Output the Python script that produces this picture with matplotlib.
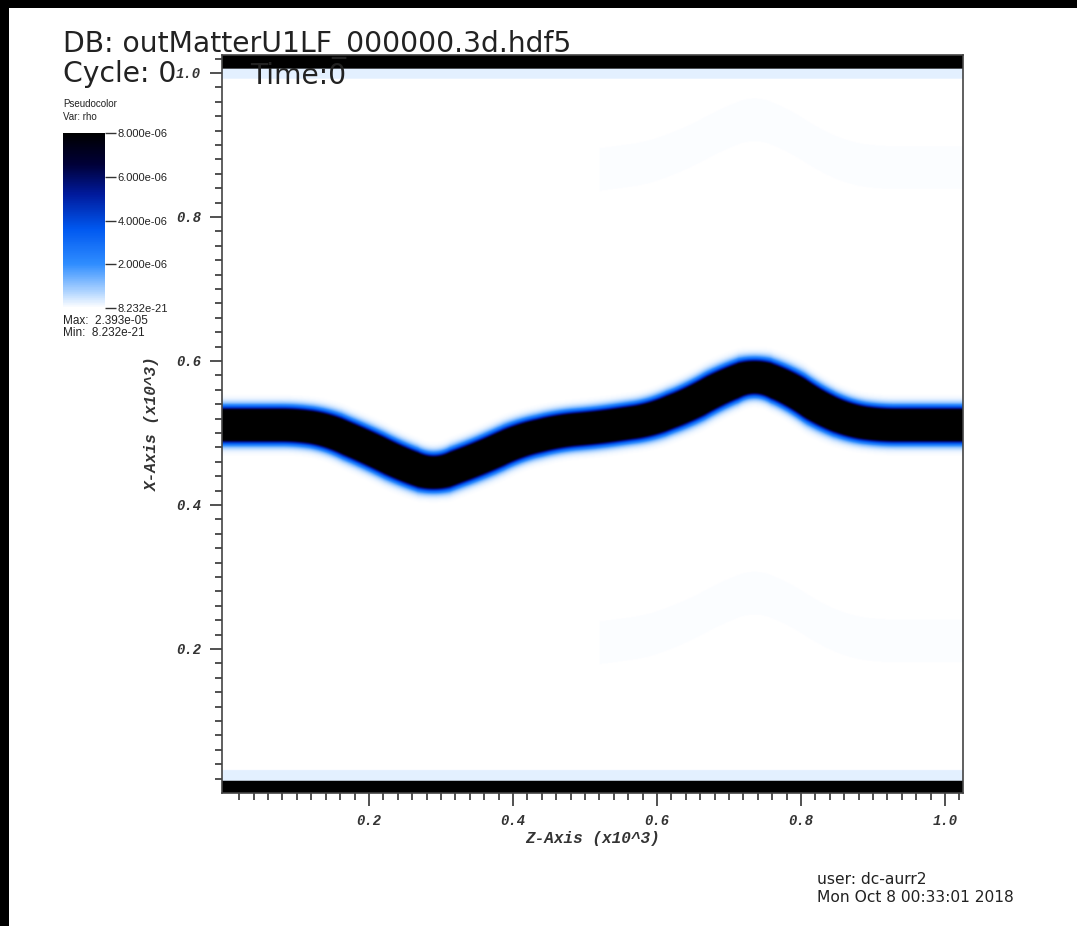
import numpy as np
import matplotlib
matplotlib.use('Agg')
import matplotlib.pyplot as plt
from matplotlib.colors import LinearSegmentedColormap, Normalize
from matplotlib.patches import Rectangle
from matplotlib import font_manager
import matplotlib.cm as cm

# centre line of the dense band (units of 10^3)
band_z = [0.00, 0.10, 0.14, 0.20, 0.243, 0.29, 0.354, 0.41, 0.465, 0.52,
          0.59, 0.646, 0.688, 0.736, 0.785, 0.826, 0.868, 0.91, 1.025]
band_x = [0.511, 0.511, 0.505, 0.479, 0.458, 0.441, 0.465, 0.490, 0.503, 0.508,
          0.518, 0.540, 0.563, 0.582, 0.562, 0.535, 0.517, 0.511, 0.511]
rho_max = 2.393e-05
rho_min = 8.232e-21
# faint ghost copies of the band (only right of z = 0.52)
ghost_shift = [0.358, -0.300]
ghost_level = 6e-08
# boundary layers (x ranges and density)
layer_lo = [0.0, 0.0167, 0.0167, 0.032]
layer_hi = [1.007, 1.025, 0.993, 1.007]
layer_light = 2.8e-07

cbar_ticks = [8.232e-21, 2e-06, 4e-06, 6e-06, 8e-06]
cbar_labels = ['8.232e-21', '2.000e-06', '4.000e-06', '6.000e-06', '8.000e-06']
major = [0.2, 0.4, 0.6, 0.8, 1.0]
major_labels = ['0.2', '0.4', '0.6', '0.8', '1.0']

W, H = 1077, 926
fig = plt.figure(figsize=(W / 100, H / 100), dpi=100, facecolor='black')
fig.patches.append(Rectangle((9 / W, 0), 1, 1 - 8 / H, transform=fig.transFigure,
                             facecolor='white', edgecolor='none', zorder=-10))

cmap = LinearSegmentedColormap.from_list('visit_blue', [
    (0.0, '#ffffff'), (0.1, '#a8d0ff'), (0.25, '#2f8dff'), (0.45, '#0058f0'),
    (0.65, '#001a9c'), (0.82, '#000038'), (1.0, '#000000')])
norm = Normalize(vmin=rho_min, vmax=8e-06)

# build the field
z = np.linspace(-0.004, 1.025, 1030)
x = np.linspace(0.0, 1.025, 1026)
c = np.interp(z, band_z, band_x)
k = 45
c = np.convolve(np.pad(c, k // 2, mode='edge'), np.ones(k) / k, mode='valid')
slope = np.gradient(c, z)
Z, X = np.meshgrid(z, x)
C = np.tile(c, (len(x), 1))
S = np.tile(slope, (len(x), 1))
d = np.abs(X - C) / np.sqrt(1 + S ** 2)
rho = rho_max * np.exp(-(d / 0.0198) ** 2.5)
for s in ghost_shift:
    g = ghost_level * np.exp(-((X - C - s) / 0.033) ** 4) * (Z > 0.52)
    rho = np.maximum(rho, g)
rho[(X >= layer_lo[0]) & (X < layer_lo[1])] = rho_max
rho[(X >= layer_lo[2]) & (X < layer_lo[3])] = layer_light
rho[(X >= layer_hi[0])] = rho_max
rho[(X >= layer_hi[2]) & (X < layer_hi[0])] = layer_light

ax = fig.add_axes([222 / W, 1 - 793 / H, (963 - 222) / W, (793 - 55) / H])
ax.imshow(rho, origin='lower', extent=[-0.004, 1.025, 0, 1.025], aspect='auto',
          cmap=cmap, norm=norm, interpolation='bilinear')
ax.set_xlim(-0.004, 1.025)
ax.set_ylim(0, 1.025)

tick_font = dict(family='Liberation Mono', weight='bold', style='italic', size=10)
ax.set_xticks(major)
ax.set_xticklabels(major_labels, **tick_font)
ax.set_yticks(major)
ax.set_yticklabels(major_labels, **tick_font)
minor = np.round(np.arange(0.02, 1.021, 0.02), 3)
ax.set_xticks(minor, minor=True)
ax.set_yticks(minor, minor=True)
ax.tick_params(which='major', length=9, width=1.2, color='#333333', pad=6,
               labelcolor='#333333')
ax.tick_params(which='minor', length=5, width=1.2, color='#333333')
for sp in ax.spines.values():
    sp.set_color('#444444')
    sp.set_linewidth(1.2)
label_font = dict(family='Liberation Mono', weight='bold', style='italic', size=11.5)
ax.set_xlabel('Z-Axis (x10^3)', fontdict=label_font, color='#333333', labelpad=2)
ax.set_ylabel('X-Axis (x10^3)', fontdict=label_font, color='#333333', labelpad=12)

# annotations
sans = 'DejaVu Sans'
names = {f.name for f in font_manager.fontManager.ttflist}
narrow = 'Liberation Sans Narrow' if 'Liberation Sans Narrow' in names else 'Liberation Sans'
fig.text(63 / W, 1 - 52 / H, 'DB: outMatterU1LF_000000.3d.hdf5', family=sans,
         size=20.3, color='#222222', va='baseline')
fig.text(63 / W, 1 - 82 / H, 'Cycle: 0', family=sans, size=20.3,
         color='#222222', va='baseline')
fig.text(250 / W, 1 - 84 / H, 'Time:0', family=sans, size=20.3,
         color='#222222', va='baseline')
fig.text(63 / W, 1 - 104 / H, 'Pseudocolor', family=narrow, size=7,
         color='#222222', va='center')
fig.text(63 / W, 1 - 117 / H, 'Var: rho', family=narrow, size=7,
         color='#222222', va='center')
fig.text(63 / W, 1 - 321 / H, 'Max:  2.393e-05', family=narrow, size=8.5,
         color='#222222', va='center')
fig.text(63 / W, 1 - 333 / H, 'Min:  8.232e-21', family=narrow, size=8.5,
         color='#222222', va='center')
fig.text(817 / W, 1 - 880 / H, 'user: dc-aurr2', family=sans, size=11.2,
         color='#222222', va='center')
fig.text(817 / W, 1 - 897 / H, 'Mon Oct 8 00:33:01 2018', family=sans, size=11.2,
         color='#222222', va='center')

cax = fig.add_axes([63 / W, 1 - 308 / H, 42 / W, 175 / H])
cb = fig.colorbar(cm.ScalarMappable(norm=norm, cmap=cmap), cax=cax)
cb.outline.set_visible(False)
cb.set_ticks(cbar_ticks)
cb.set_ticklabels(cbar_labels)
cax.tick_params(length=8, width=1, color='#333333', pad=1, labelcolor='#222222')
for t in cax.get_yticklabels():
    t.set_fontfamily(narrow)
    t.set_fontsize(8)

fig.savefig('out.png', dpi=100, facecolor='black')
